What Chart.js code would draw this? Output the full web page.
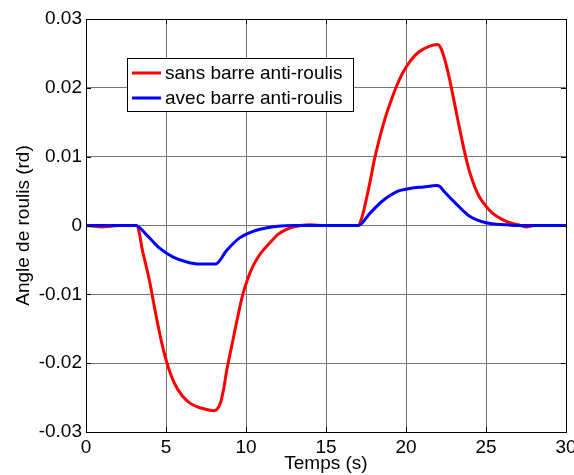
<!DOCTYPE html>
<html>
<head>
<meta charset="utf-8">
<script src="https://cdn.jsdelivr.net/npm/chart.js@4.4.0/dist/chart.umd.min.js"></script>
<style>
  html, body { margin: 0; padding: 0; background: #fff; }
  #wrap { width: 574px; height: 475px; }
</style>
</head>
<body>
<div id="wrap"><canvas id="roulis"></canvas></div>
<script>
// Angle de roulis, sans barre anti-roulis (rouge)
const tSans = [0, 0.5, 1, 1.5, 2, 3, 3.2, 3.35, 3.5, 3.75, 4, 4.25, 4.5, 4.75, 5, 5.5, 6, 6.5, 7, 7.5, 8,
  8.15, 8.4, 8.6, 8.8, 9.1, 9.4, 9.8, 10.1, 10.4, 10.7, 11, 11.5, 12, 12.5, 13, 14, 15, 17, 17.25, 17.5,
  17.75, 18, 18.25, 18.5, 18.75, 19, 19.4, 19.8, 20.3, 20.8, 21.4, 22, 22.15, 22.4, 22.7, 22.95, 23.2,
  23.5, 23.75, 24, 24.3, 24.6, 25, 25.4, 26, 26.5, 27, 27.5, 28, 30];
const ySans = [0, -0.0001, -0.0002, -0.0001, 0, 0, 0, -0.0013, -0.0033, -0.0058, -0.0084, -0.0115,
  -0.0145, -0.0172, -0.0195, -0.0228, -0.0247, -0.0258, -0.0264, -0.0267, -0.0269, -0.0268, -0.0258,
  -0.0238, -0.0210, -0.0176, -0.0142, -0.0100, -0.0078, -0.0061, -0.0048, -0.0038, -0.0025, -0.0013,
  -0.0006, -0.0002, 0.0001, 0, 0, 0.0012, 0.0036, 0.0063, 0.0093, 0.0118, 0.0140, 0.0160, 0.0177,
  0.0202, 0.0222, 0.0240, 0.0252, 0.0260, 0.0263, 0.0259, 0.0243, 0.0215, 0.0187, 0.0158, 0.0124,
  0.0098, 0.0076, 0.0056, 0.0041, 0.0028, 0.0018, 0.0009, 0.0004, 0.0001, -0.0002, 0, 0];

// Angle de roulis, avec barre anti-roulis (bleu)
const tAvec = [0, 3.1, 3.8, 4.6, 5.45, 6.3, 7.1, 8.1, 8.8, 9.6, 10.7, 12, 13, 17, 17.75, 18.6, 19.4, 20.3,
  21.1, 21.9, 22.1, 22.4, 23.2, 24, 25, 26.3, 27, 30];
const yAvec = [0, 0, -0.0014, -0.0033, -0.0046, -0.0053, -0.0056, -0.0056, -0.0036, -0.0018, -0.00065,
  -0.0001, 0, 0, 0.0018, 0.0037, 0.0049, 0.0054, 0.0056, 0.0058, 0.0057, 0.0049, 0.0030, 0.0013, 0.0004,
  0.0001, 0, 0];

const seriesNames = ['sans barre anti-roulis', 'avec barre anti-roulis'];
const xTicks = [0, 5, 10, 15, 20, 25, 30];
const yTicks = [-0.03, -0.02, -0.01, 0, 0.01, 0.02, 0.03];
const yTickLabels = ['-0.03', '-0.02', '-0.01', '0', '0.01', '0.02', '0.03'];

const FONT = 'Liberation Sans, Arial, sans-serif';

function pairs(xs, ys) {
  return xs.map((x, i) => ({ x: x, y: ys[i] }));
}

// cadre noir + petites graduations vers l'interieur (style MATLAB)
const boxPlugin = {
  id: 'boxPlugin',
  afterDatasetsDraw(chart) {
    const a = chart.chartArea;
    const ctx = chart.ctx;
    const xs = chart.scales.x, ys = chart.scales.y;
    ctx.save();
    ctx.strokeStyle = '#000';
    ctx.lineWidth = 1;
    ctx.beginPath();
    xTicks.forEach(v => {
      const px = Math.round(xs.getPixelForValue(v)) + 0.5;
      ctx.moveTo(px, a.bottom); ctx.lineTo(px, a.bottom - 5);
      ctx.moveTo(px, a.top); ctx.lineTo(px, a.top + 5);
    });
    yTicks.forEach(v => {
      const py = Math.round(ys.getPixelForValue(v)) + 0.5;
      ctx.moveTo(a.left, py); ctx.lineTo(a.left + 5, py);
      ctx.moveTo(a.right, py); ctx.lineTo(a.right - 5, py);
    });
    ctx.stroke();
    ctx.strokeRect(Math.round(a.left) + 0.5, Math.round(a.top) + 0.5,
      Math.round(a.right - a.left), Math.round(a.bottom - a.top));
    ctx.restore();
  },
  afterDraw(chart) {
    // legende a l'interieur du graphique
    const ctx = chart.ctx;
    const x0 = 127, y0 = 58, w = 226, h = 53;
    ctx.save();
    ctx.fillStyle = '#fff';
    ctx.fillRect(x0, y0, w, h);
    ctx.strokeStyle = '#000';
    ctx.lineWidth = 1;
    ctx.strokeRect(x0 + 0.5, y0 + 0.5, w, h);
    ctx.font = '19px ' + FONT;
    ctx.textBaseline = 'middle';
    ctx.fillStyle = '#000';
    chart.data.datasets.forEach((ds, i) => {
      const cy = y0 + 15 + i * 25;
      ctx.strokeStyle = ds.borderColor;
      ctx.lineWidth = 3;
      ctx.beginPath();
      ctx.moveTo(x0 + 5, cy);
      ctx.lineTo(x0 + 34, cy);
      ctx.stroke();
      ctx.fillText(ds.label, x0 + 38, cy + 1);
    });
    ctx.restore();
  }
};

const ctx = document.getElementById('roulis').getContext('2d');
const chart = new Chart(ctx, {
  type: 'line',
  data: {
    datasets: [{
      label: seriesNames[0],
      data: pairs(tSans, ySans),
      borderColor: '#ff0000',
      borderWidth: 3,
      pointRadius: 0,
      cubicInterpolationMode: 'monotone',
      order: 2
    }, {
      label: seriesNames[1],
      data: pairs(tAvec, yAvec),
      borderColor: '#0000ff',
      borderWidth: 3,
      pointRadius: 0,
      cubicInterpolationMode: 'monotone',
      order: 1
    }]
  },
  options: {
    responsive: true,
    maintainAspectRatio: false,
    animation: false,
    layout: { padding: { left: 0, right: 8, top: 19, bottom: 0 } },
    plugins: { legend: { display: false }, tooltip: { enabled: false } },
    scales: {
      x: {
        type: 'linear',
        min: 0,
        max: 30,
        afterBuildTicks: s => { s.ticks = xTicks.map(v => ({ value: v })); },
        afterFit: s => { s.height = 43; s.paddingLeft = 0; s.paddingRight = 0; },
        ticks: { color: '#000', padding: 4, maxRotation: 0, font: { family: FONT, size: 19 } },
        grid: { color: '#777', borderDash: [1, 2], drawTicks: false },
        border: { display: false },
        title: {
          display: true, text: 'Temps (s)', color: '#000',
          padding: { top: 0, bottom: 0 }, font: { family: FONT, size: 19 }
        }
      },
      y: {
        type: 'linear',
        min: -0.03,
        max: 0.03,
        afterBuildTicks: s => { s.ticks = yTicks.map(v => ({ value: v })); },
        afterFit: s => { s.width = 86; s.paddingTop = 0; s.paddingBottom = 0; },
        ticks: {
          color: '#000', padding: 4, font: { family: FONT, size: 19 },
          callback: (v, i) => yTickLabels[i]
        },
        grid: { color: '#777', borderDash: [1, 2], drawTicks: false },
        border: { display: false },
        title: {
          display: true, text: 'Angle de roulis (rd)', color: '#000',
          padding: { top: 12, bottom: 0 }, font: { family: FONT, size: 19 }
        }
      }
    }
  },
  plugins: [boxPlugin]
});
</script>
</body>
</html>
